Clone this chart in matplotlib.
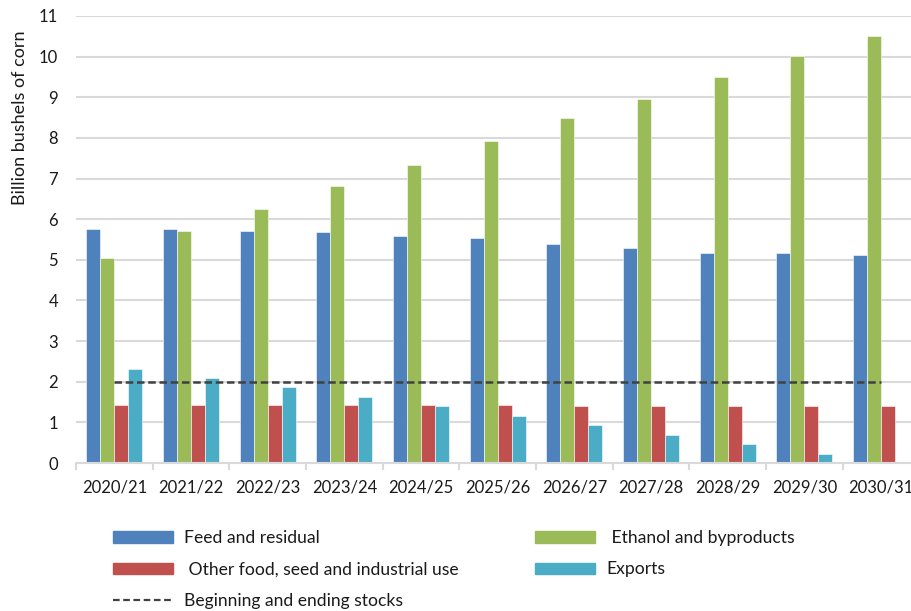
import matplotlib.pyplot as plt
import numpy as np
from matplotlib.lines import Line2D
from matplotlib.patches import Patch

plt.rcParams["font.family"] = ["Lato", "DejaVu Sans"]

years = ["2020/21", "2021/22", "2022/23", "2023/24", "2024/25", "2025/26",
         "2026/27", "2027/28", "2028/29", "2029/30", "2030/31"]
feed = [5.77, 5.77, 5.70, 5.68, 5.59, 5.54, 5.39, 5.29, 5.18, 5.16, 5.11]
ethanol = [5.04, 5.70, 6.24, 6.81, 7.34, 7.92, 8.48, 8.95, 9.49, 10.01, 10.50]
other_use = [1.42, 1.42, 1.42, 1.42, 1.42, 1.42, 1.41, 1.40, 1.40, 1.40, 1.40]
exports = [2.31, 2.08, 1.86, 1.62, 1.40, 1.16, 0.93, 0.69, 0.46, 0.23, 0.0]
stocks = [2.0, 2.0, 2.0, 2.0, 2.0, 2.0, 2.0, 2.0, 2.0, 2.0, 2.0]

BLUE = "#4F81BD"
GREEN = "#9BBB59"
RED = "#C0504D"
CYAN = "#4BACC6"
GRID = "#d9d9d9"
FS = 12
LEG_FS = 12.6

fig = plt.figure(figsize=(9.12, 6.11), dpi=100)
ax = fig.add_axes([76 / 912, 148 / 611, 1 - 76 / 912, 447 / 611])

x = np.arange(len(years))
w = 0.1826
series = [(feed, BLUE), (ethanol, GREEN), (other_use, RED), (exports, CYAN)]
for k, (vals, col) in enumerate(series):
    ax.bar(x + (k - 1.5) * w, vals, width=w, color=col,
           edgecolor="white", linewidth=0.4, zorder=2)

ax.plot(x, stocks, color="#404040", lw=1.8, dashes=(3, 1.5), zorder=3)

ax.set_xlim(-0.5, 10.404)
ax.set_ylim(0, 11)
ax.set_yticks(range(0, 12))
ax.yaxis.grid(True, color=GRID, lw=1.5, zorder=0)
ax.set_axisbelow(True)

ax.set_xticks(x)
ax.set_xticklabels(years)
ax.set_xticks(np.arange(-0.5, 10.0, 1.0), minor=True)
ax.tick_params(axis="x", which="major", length=0, pad=12, labelsize=FS,
               labelcolor="#1a1a1a")
ax.tick_params(axis="x", which="minor", length=5, width=1.5, color=GRID,
               direction="out")
ax.tick_params(axis="y", length=0, pad=13, labelsize=FS, labelcolor="#1a1a1a")

for side in ["top", "right", "left"]:
    ax.spines[side].set_visible(False)
ax.spines["bottom"].set_color(GRID)
ax.spines["bottom"].set_linewidth(1.5)

fig.text(20 / 912, 1 - 118 / 611, "Billion bushels of corn", rotation=90,
         ha="center", va="center", fontsize=13, color="#1a1a1a")

left_items = [
    (Patch(color=BLUE), "Feed and residual"),
    (Patch(color=RED), " Other food, seed and industrial use"),
    (Line2D([], [], color="#404040", lw=1.6, dashes=(3, 1.6)),
     "Beginning and ending stocks"),
]
right_items = [
    (Patch(color=GREEN), " Ethanol and byproducts"),
    (Patch(color=CYAN), "Exports"),
]

for items, x0 in [(left_items, 112.7), (right_items, 535)]:
    leg = fig.legend([h for h, _ in items], [t for _, t in items],
                     loc="upper left", bbox_to_anchor=(x0 / 912, 1 - 530 / 611),
                     frameon=False, fontsize=LEG_FS, borderpad=0,
                     borderaxespad=0, handlelength=3.45, handleheight=0.63,
                     handletextpad=0.65, labelspacing=0.88)
    for t in leg.get_texts():
        t.set_color("#1a1a1a")

fig.savefig("out.png", dpi=100)
plt.close(fig)
